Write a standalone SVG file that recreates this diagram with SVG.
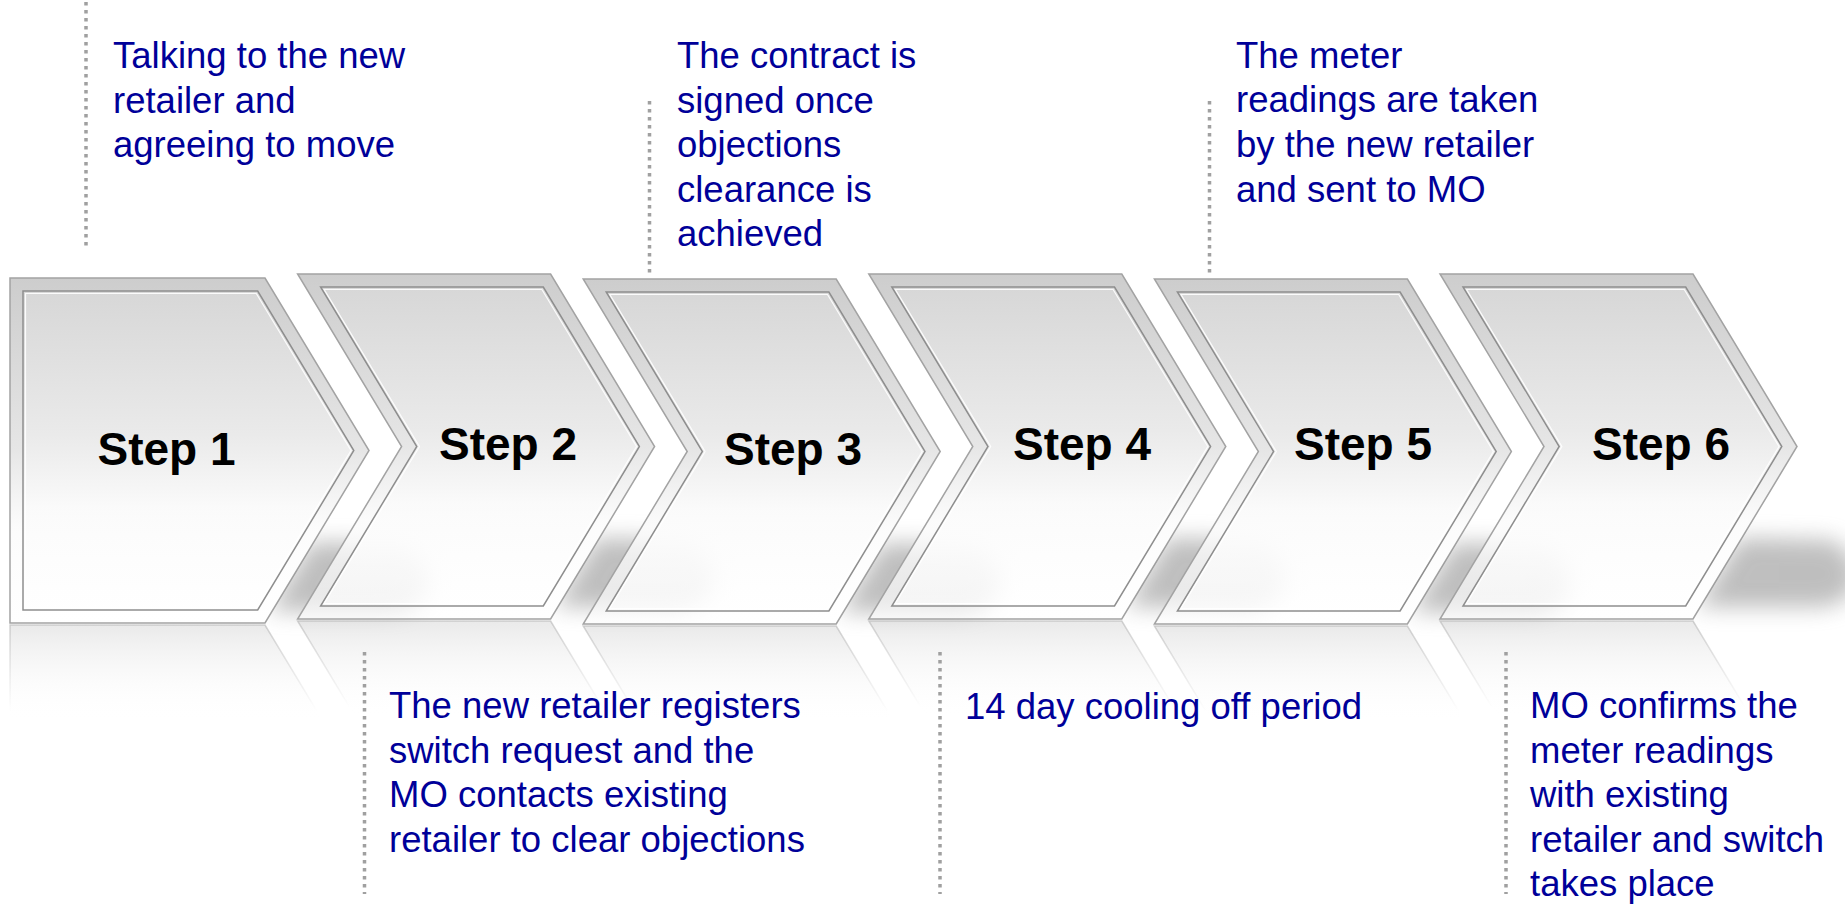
<svg xmlns="http://www.w3.org/2000/svg" width="1845" height="905" viewBox="0 0 1845 905">
<style>
.outer{fill:url(#bandGrad);stroke:#a3a3a3;stroke-width:1.5}
.inner{fill:url(#fillGrad);stroke:#8e8e8e;stroke-width:1.5}
.hl{fill:none;stroke:#ffffff;stroke-width:1.2;opacity:0.9}
.shadow{fill:#8a8a8a;opacity:0.55}
.refl{fill:url(#reflGrad);stroke:url(#reflStroke);stroke-width:1.5}
.lbl{font-family:"Liberation Sans",Arial,sans-serif;font-weight:bold;font-size:46px;fill:#000000;text-anchor:middle}
.ann{font-family:"Liberation Sans",Arial,sans-serif;font-size:36.5px;fill:#000099}
.dot{stroke:#a0a0a0;stroke-width:3.5;stroke-dasharray:3.5 4.5;fill:none}
</style>
<defs>
<linearGradient id="bandGrad" x1="0" y1="0" x2="0" y2="1">
<stop offset="0" stop-color="#cdcdcd"/>
<stop offset="0.5" stop-color="#e6e6e6"/>
<stop offset="0.72" stop-color="#fbfbfb" stop-opacity="0.85"/>
<stop offset="1" stop-color="#ffffff" stop-opacity="0.6"/>
</linearGradient>
<linearGradient id="fillGrad" x1="0" y1="0" x2="0" y2="1">
<stop offset="0" stop-color="#d7d7d7"/>
<stop offset="0.45" stop-color="#eaeaea"/>
<stop offset="0.68" stop-color="#fbfbfb" stop-opacity="0.85"/>
<stop offset="1" stop-color="#ffffff" stop-opacity="0.55"/>
</linearGradient>
<linearGradient id="reflGrad" x1="0" y1="0" x2="0" y2="1">
<stop offset="0.72" stop-color="#ffffff" stop-opacity="0"/>
<stop offset="1" stop-color="#d4d4d4" stop-opacity="0.5"/>
</linearGradient>
<linearGradient id="reflStroke" x1="0" y1="0" x2="0" y2="1">
<stop offset="0.75" stop-color="#b0b0b0" stop-opacity="0"/>
<stop offset="1" stop-color="#b0b0b0" stop-opacity="0.55"/>
</linearGradient>
<filter id="blur" x="-40%" y="-80%" width="180%" height="260%"><feGaussianBlur stdDeviation="11"/></filter>
<clipPath id="shClip" clipPathUnits="userSpaceOnUse"><path d="M357,150 L357,172.5 L253,345 L240,440 L760,440 L760,150 Z"/></clipPath>
<path id="chev" d="M0,0 H253 L357,172.5 L253,345 H0 L104,172.5 Z"/>
<path id="chevIn" d="M23,13 H245.7 L341.8,172.5 L245.7,332 H23 L119.2,172.5 Z"/>
<path id="chevIn2" d="M26.6,15.5 H244.3 L339,172.5 L244.3,329.5 H26.6 L121.9,172.5 Z"/>
<path id="home" d="M-2,0 H253 L357,172.5 L253,345 H-2 Z"/>
<path id="homeIn" d="M11,13 H245.7 L341.8,172.5 L245.7,332 H11 Z"/>
<path id="homeIn2" d="M13.5,15.5 H244.3 L339,172.5 L244.3,329.5 H13.5 Z"/>
<path id="shd" d="M300,264 L392,266 Q420,284 416,308 Q410,330 380,333 L257,333 Z"/>
</defs>
<rect width="1845" height="905" fill="#ffffff"/>

<g id="step1">
<g transform="translate(12,278)">
<use href="#home" class="refl" transform="translate(0,692) scale(1,-1)"/>
<use href="#home" class="outer"/>
<use href="#homeIn" class="inner"/>
<use href="#homeIn2" class="hl"/>
<use href="#shd" class="shadow" filter="url(#blur)" clip-path="url(#shClip)"/>
</g>
<text class="lbl" x="166.5" y="465">Step 1</text>
</g>

<g id="step2">
<g transform="translate(297.6,274)">
<use href="#chev" class="refl" transform="translate(0,692) scale(1,-1)"/>
<use href="#chev" class="outer"/>
<use href="#chevIn" class="inner"/>
<use href="#chevIn2" class="hl"/>
<use href="#shd" class="shadow" filter="url(#blur)" clip-path="url(#shClip)"/>
</g>
<text class="lbl" x="508" y="460">Step 2</text>
</g>

<g id="step3">
<g transform="translate(583.2,279)">
<use href="#chev" class="refl" transform="translate(0,692) scale(1,-1)"/>
<use href="#chev" class="outer"/>
<use href="#chevIn" class="inner"/>
<use href="#chevIn2" class="hl"/>
<use href="#shd" class="shadow" filter="url(#blur)" clip-path="url(#shClip)"/>
</g>
<text class="lbl" x="793" y="465">Step 3</text>
</g>

<g id="step4">
<g transform="translate(868.8,274)">
<use href="#chev" class="refl" transform="translate(0,692) scale(1,-1)"/>
<use href="#chev" class="outer"/>
<use href="#chevIn" class="inner"/>
<use href="#chevIn2" class="hl"/>
<use href="#shd" class="shadow" filter="url(#blur)" clip-path="url(#shClip)"/>
</g>
<text class="lbl" x="1082" y="460">Step 4</text>
</g>

<g id="step5">
<g transform="translate(1154.4,279)">
<use href="#chev" class="refl" transform="translate(0,692) scale(1,-1)"/>
<use href="#chev" class="outer"/>
<use href="#chevIn" class="inner"/>
<use href="#chevIn2" class="hl"/>
<use href="#shd" class="shadow" filter="url(#blur)" clip-path="url(#shClip)"/>
</g>
<text class="lbl" x="1363" y="460">Step 5</text>
</g>

<g id="step6">
<g transform="translate(1440,274)">
<use href="#chev" class="refl" transform="translate(0,692) scale(1,-1)"/>
<use href="#chev" class="outer"/>
<use href="#chevIn" class="inner"/>
<use href="#chevIn2" class="hl"/>
<use href="#shd" class="shadow" filter="url(#blur)" clip-path="url(#shClip)"/>
</g>
<text class="lbl" x="1661" y="460">Step 6</text>
</g>

<g id="connectors">
<line class="dot" x1="86" y1="2" x2="86" y2="249"/>
<line class="dot" x1="649.5" y1="101" x2="649.5" y2="277"/>
<line class="dot" x1="1209.5" y1="101" x2="1209.5" y2="277"/>
<line class="dot" x1="364.5" y1="652" x2="364.5" y2="894"/>
<line class="dot" x1="940" y1="652" x2="940" y2="894"/>
<line class="dot" x1="1506" y1="652" x2="1506" y2="894"/>
</g>

<g id="note1">
<text class="ann" x="113" y="68">Talking to the new</text>
<text class="ann" x="113" y="112.5">retailer and</text>
<text class="ann" x="113" y="157">agreeing to move</text>
</g>
<g id="note2">
<text class="ann" x="389" y="718">The new retailer registers</text>
<text class="ann" x="389" y="763">switch request and the</text>
<text class="ann" x="389" y="807">MO contacts existing</text>
<text class="ann" x="389" y="852">retailer to clear objections</text>
</g>
<g id="note3">
<text class="ann" x="677" y="68">The contract is</text>
<text class="ann" x="677" y="113">signed once</text>
<text class="ann" x="677" y="157">objections</text>
<text class="ann" x="677" y="202">clearance is</text>
<text class="ann" x="677" y="246">achieved</text>
</g>
<g id="note4">
<text class="ann" x="965" y="719">14 day cooling off period</text>
</g>
<g id="note5">
<text class="ann" x="1236" y="68">The meter</text>
<text class="ann" x="1236" y="112">readings are taken</text>
<text class="ann" x="1236" y="157">by the new retailer</text>
<text class="ann" x="1236" y="202">and sent to MO</text>
</g>
<g id="note6">
<text class="ann" x="1530" y="718">MO confirms the</text>
<text class="ann" x="1530" y="763">meter readings</text>
<text class="ann" x="1530" y="807">with existing</text>
<text class="ann" x="1530" y="852">retailer and switch</text>
<text class="ann" x="1530" y="896">takes place</text>
</g>
</svg>
